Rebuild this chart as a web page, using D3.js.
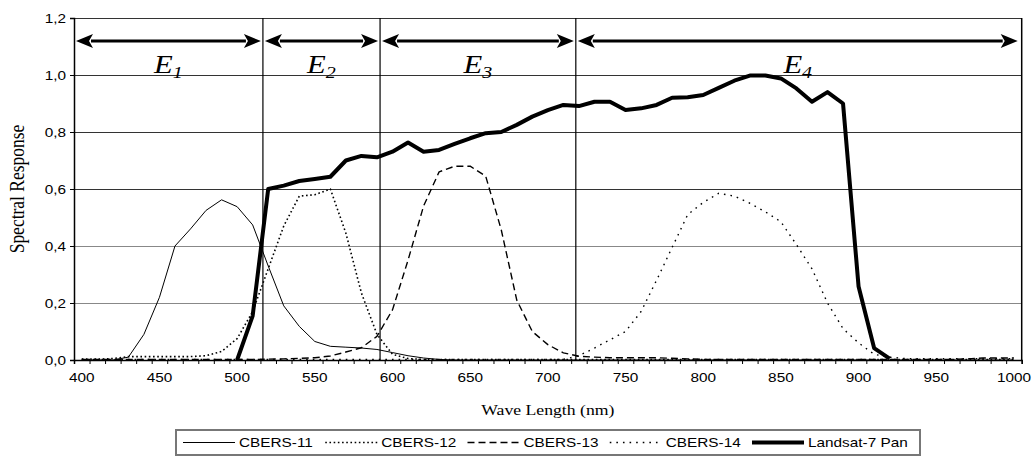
<!DOCTYPE html>
<html>
<head>
<meta charset="utf-8">
<script src="https://cdn.jsdelivr.net/npm/d3@7"></script>
<style>
  body { margin: 0; background: #fff; }
  svg { display: block; }
</style>
</head>
<body>
<div id="chart"></div>
<script>
// DATA (10 nm steps)
const wavelengths = [400,410,420,430,440,450,460,470,480,490,500,510,520,530,540,550,560,570,580,590,
  600,610,620,630,640,650,660,670,680,690,700,710,720,730,740,750,760,770,780,790,
  800,810,820,830,840,850,860,870,880,890,900,910,920,930,940,950,960,970,980,990,1000];

const cbers11 = [0,0,0,0.01,0.09,0.22,0.40,0.46,0.525,0.562,0.538,0.474,0.33,0.19,0.118,0.065,0.048,0.045,0.042,0.037,
  0.026,0.015,0.007,0.002,0,0,0,0,0,0,0,0,0,0,0,0,0,0,0,0,
  0,0,0,0,0,0,0,0,0,0,0,0,0,0,0,0,0,0,0,0,0];

const cbers12 = [0.003,0.003,0.005,0.012,0.012,0.012,0.012,0.012,0.015,0.03,0.075,0.17,0.32,0.47,0.575,0.58,0.60,0.445,0.235,0.09,
  0.02,0.005,0.002,0.002,0.002,0.002,0.002,0.002,0.002,0.002,0.002,0.002,0.002,0.002,0.002,0.002,0.002,0.002,0.002,0.002,
  0.002,0.002,0.002,0.002,0.002,0.002,0.002,0.002,0.002,0.002,0.002,0.002,0.002,0.002,0.002,0.002,0.002,0.002,0.002,0.002,0.002];

const cbers13 = [0.002,0.002,0.002,0.002,0.002,0.002,0.002,0.002,0.002,0.002,0.002,0.002,0.003,0.004,0.006,0.008,0.014,0.028,0.043,0.083,
  0.176,0.35,0.54,0.66,0.68,0.68,0.645,0.457,0.21,0.10,0.054,0.025,0.013,0.01,0.008,0.008,0.008,0.008,0.006,0.004,
  0.002,0.002,0.002,0.002,0.002,0.002,0.002,0.002,0.002,0.002,0.002,0.002,0.002,0.002,0.002,0.002,0.002,0.004,0.007,0.007,0.007];

const cbers14 = [0.002,0.002,0.002,0.002,0.002,0.002,0.002,0.002,0.002,0.002,0.002,0.002,0.002,0.002,0.002,0.002,0.002,0.002,0.002,0.002,
  0.002,0.002,0.002,0.002,0.002,0.002,0.002,0.002,0.002,0.002,0.002,0.002,0.015,0.042,0.071,0.10,0.17,0.28,0.395,0.51,
  0.553,0.585,0.575,0.55,0.52,0.485,0.405,0.32,0.20,0.11,0.06,0.02,0.01,0.005,0.005,0.005,0.005,0.005,0.005,0.005,0.005];

const landsatPan = [null,null,null,null,null,null,null,null,null,null,0,0.155,0.60,0.612,0.628,0.635,0.643,0.70,0.716,0.711,
  0.731,0.763,0.731,0.737,0.758,0.778,0.796,0.80,0.825,0.854,0.877,0.895,0.891,0.906,0.906,0.877,0.883,0.895,0.92,0.922,
  0.93,0.955,0.98,0.998,0.998,0.988,0.953,0.906,0.94,0.90,0.258,0.042,0.005,null,null,null,null,null,null,null,null];

const seriesNames = ["CBERS-11", "CBERS-12", "CBERS-13", "CBERS-14", "Landsat-7 Pan"];
const xTickLabels = [400,450,500,550,600,650,700,750,800,850,900,950,1000];
const yTickValues = [0,0.2,0.4,0.6,0.8,1.0,1.2];
// E1..E4 band limits (nm)
const regionEdges = [395, 516.6, 592, 718, 1005];
const regionLabels = ["1","2","3","4"];

// CONSTANTS
const width = 1034;
const height = 456;
const plot = { left: 74, right: 1021.7, top: 18, bottom: 360 };
const sx = 1.18; // original text is a bit stretched sideways
const sans = "'Liberation Sans', Arial, sans-serif";
const serif = "'Liberation Serif', 'Times New Roman', serif";

// line looks per series
const styles = [
  { w: 1,   dash: null },
  { w: 1.6, dash: "1.6,2.6" },
  { w: 1.4, dash: "7,4" },
  { w: 1.4, dash: "1.6,5" },
  { w: 4,   dash: null }
];
const allValues = [cbers11, cbers12, cbers13, cbers14, landsatPan];

// SCALES
const xScale = d3.scaleLinear().domain([395, 1005]).range([plot.left, plot.right]);
const yScale = d3.scaleLinear().domain([0, 1.2]).range([plot.bottom, plot.top]);

// SVG
const svg = d3.select("#chart").append("svg")
  .attr("width", width)
  .attr("height", height);

svg.append("defs").append("clipPath").attr("id", "plotclip")
  .append("rect")
  .attr("x", plot.left).attr("y", plot.top)
  .attr("width", plot.right - plot.left)
  .attr("height", plot.bottom - plot.top);

// GRID
svg.append("g").selectAll("line")
  .data(yTickValues)
  .join("line")
  .attr("x1", plot.left).attr("x2", plot.right)
  .attr("y1", d => yScale(d)).attr("y2", d => yScale(d))
  .attr("stroke", d => (d > 0 && d < 0.5) ? "#888" : "#333")
  .attr("stroke-width", 1)
  .attr("shape-rendering", "crispEdges");

// frame
svg.append("line")
  .attr("x1", plot.right).attr("x2", plot.right)
  .attr("y1", plot.top).attr("y2", plot.bottom)
  .attr("stroke", "#000").attr("stroke-width", 1.5);

// AXES
const yAxis = d3.axisLeft(yScale)
  .tickValues(yTickValues)
  .tickSize(4)
  .tickFormat("");
const yAxisGroup = svg.append("g")
  .attr("transform", `translate(${plot.left},0)`)
  .call(yAxis);

const xAxis = d3.axisBottom(xScale)
  .tickValues(d3.range(0, 62).map(i => 395 + i * 10))
  .tickSize(4)
  .tickFormat("");
const xAxisGroup = svg.append("g")
  .attr("transform", `translate(0,${plot.bottom})`)
  .call(xAxis);

[yAxisGroup, xAxisGroup].forEach(g => {
  g.select(".domain").attr("stroke", "#000").attr("stroke-width", 1.5);
  g.selectAll(".tick line").attr("stroke", "#000");
});

// tick labels, drawn stretched
svg.append("g").selectAll("text")
  .data(yTickValues)
  .join("text")
  .attr("transform", d => `translate(${plot.left - 8},${yScale(d) + 4.5}) scale(${sx},1)`)
  .attr("text-anchor", "end")
  .attr("font-family", sans)
  .attr("font-size", 13)
  .text(d => d3.format(".1f")(d).replace(".", ","));

svg.append("g").selectAll("text")
  .data(xTickLabels)
  .join("text")
  .attr("transform", d => `translate(${xScale(d)},${plot.bottom + 22}) scale(${sx},1)`)
  .attr("text-anchor", "middle")
  .attr("font-family", sans)
  .attr("font-size", 13)
  .text(d => d);

// axis titles
svg.append("text")
  .attr("transform", `translate(${(plot.left + plot.right) / 2},${plot.bottom + 55}) scale(${sx},1)`)
  .attr("text-anchor", "middle")
  .attr("font-family", serif)
  .attr("font-size", 15)
  .text("Wave Length (nm)");

svg.append("text")
  .attr("transform", `translate(24,${(plot.top + plot.bottom) / 2}) rotate(-90) scale(1,${sx})`)
  .attr("text-anchor", "middle")
  .attr("font-family", serif)
  .attr("font-size", 17.5)
  .text("Spectral Response");

// REGION LINES AND ARROWS
svg.append("g").selectAll("line")
  .data(regionEdges.slice(1, -1))
  .join("line")
  .attr("x1", d => xScale(d)).attr("x2", d => xScale(d))
  .attr("y1", plot.top).attr("y2", plot.bottom)
  .attr("stroke", "#000").attr("stroke-width", 1.2);

const arrowY = 41;
const headL = 17, headH = 7;
const regions = regionLabels.map((lab, i) => ({ lab, x0: xScale(regionEdges[i]) + 2, x1: xScale(regionEdges[i + 1]) - (i === 3 ? 4 : 2) }));

const arrows = svg.append("g");
arrows.selectAll("line")
  .data(regions)
  .join("line")
  .attr("x1", d => d.x0 + headL - 2).attr("x2", d => d.x1 - headL + 2)
  .attr("y1", arrowY).attr("y2", arrowY)
  .attr("stroke", "#000").attr("stroke-width", 3);
arrows.selectAll("path.l")
  .data(regions)
  .join("path")
  .attr("class", "l")
  .attr("d", d => `M${d.x0},${arrowY} L${d.x0 + headL},${arrowY - headH} L${d.x0 + headL - 4},${arrowY} L${d.x0 + headL},${arrowY + headH} Z`)
  .attr("fill", "#000");
arrows.selectAll("path.r")
  .data(regions)
  .join("path")
  .attr("class", "r")
  .attr("d", d => `M${d.x1},${arrowY} L${d.x1 - headL},${arrowY - headH} L${d.x1 - headL + 4},${arrowY} L${d.x1 - headL},${arrowY + headH} Z`)
  .attr("fill", "#000");

const eLabels = svg.append("g").selectAll("text")
  .data(regions)
  .join("text")
  .attr("transform", d => `translate(${(d.x0 + d.x1) / 2},73) scale(${sx},1)`)
  .attr("text-anchor", "middle")
  .attr("font-family", serif)
  .attr("font-style", "italic")
  .attr("font-size", 26);
eLabels.append("tspan").text("E");
eLabels.append("tspan")
  .attr("font-size", 17)
  .attr("dy", 5)
  .text(d => d.lab);

// SERIES LINES
const line = d3.line()
  .defined(d => d[1] !== null)
  .x(d => xScale(d[0]))
  .y(d => yScale(d[1]));

const lines = svg.append("g").attr("clip-path", "url(#plotclip)");
allValues.forEach((vals, i) => {
  lines.append("path")
    .datum(wavelengths.map((w, j) => [w, vals[j]]))
    .attr("d", line)
    .attr("fill", "none")
    .attr("stroke", "#000")
    .attr("stroke-width", styles[i].w)
    .attr("stroke-dasharray", styles[i].dash)
    .attr("stroke-linejoin", "round");
});

// LEGEND
const legendTextX = i => 239 + i * 142.25;
const legend = svg.append("g");
legend.append("rect")
  .attr("x", 176).attr("y", 430)
  .attr("width", 744).attr("height", 25)
  .attr("fill", "none")
  .attr("stroke", "#777")
  .attr("stroke-width", 2);
legend.selectAll("line")
  .data(seriesNames)
  .join("line")
  .attr("x1", (d, i) => legendTextX(i) - 56)
  .attr("x2", (d, i) => legendTextX(i) - 4)
  .attr("y1", 442.5).attr("y2", 442.5)
  .attr("stroke", "#000")
  .attr("stroke-width", (d, i) => styles[i].w)
  .attr("stroke-dasharray", (d, i) => styles[i].dash);
legend.selectAll("text")
  .data(seriesNames)
  .join("text")
  .attr("transform", (d, i) => `translate(${legendTextX(i)},447) scale(${sx},1)`)
  .attr("font-family", sans)
  .attr("font-size", 13)
  .text(d => d);
</script>
</body>
</html>
